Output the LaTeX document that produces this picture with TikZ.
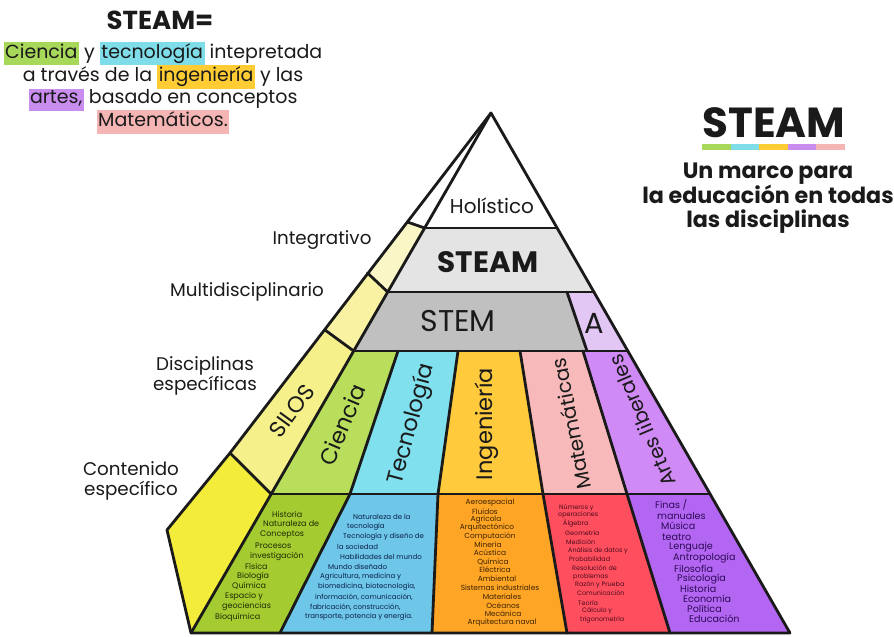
\documentclass[tikz,border=0pt]{standalone}
\usepackage{fontspec}
\setmainfont{Poppins}
\usetikzlibrary{calc}

% palette
\definecolor{hlGreen}{HTML}{A8D85A}
\definecolor{hlCyan}{HTML}{7FDDEA}
\definecolor{hlOrange}{HTML}{FFCC33}
\definecolor{hlPurple}{HTML}{C98DF0}
\definecolor{hlPink}{HTML}{F5B5B5}
\definecolor{slvA}{HTML}{FBF6C6}
\definecolor{slvB}{HTML}{F8F2A2}
\definecolor{slvC}{HTML}{F6F08A}
\definecolor{slvD}{HTML}{F3EC3A}
\definecolor{bandSteam}{HTML}{E4E4E4}
\definecolor{bandStem}{HTML}{C0C0C0}
\definecolor{bandA}{HTML}{E2C7F5}
\definecolor{colCie}{HTML}{B8DE5C}
\definecolor{colTec}{HTML}{80E0EE}
\definecolor{colIng}{HTML}{FFCB3D}
\definecolor{colMat}{HTML}{F7B9B9}
\definecolor{colArt}{HTML}{CF8AF5}
\definecolor{botCie}{HTML}{A4CB2F}
\definecolor{botTec}{HTML}{6EC6E8}
\definecolor{botIng}{HTML}{FFA526}
\definecolor{botMat}{HTML}{FF4F5E}
\definecolor{botArt}{HTML}{B366F2}
\definecolor{txCie}{HTML}{1E2B06}
\definecolor{txTec}{HTML}{0B1F4A}
\definecolor{txIng}{HTML}{3B2300}
\definecolor{txMat}{HTML}{4A0B1E}
\definecolor{txArt}{HTML}{2D0B57}
\definecolor{ink}{HTML}{1A1A1A}

\setlength{\fboxsep}{1.5pt}
\newcommand{\hl}[2]{\colorbox{#1}{\strut #2}}

\begin{document}
\begin{tikzpicture}[x=1pt,y=-1pt,
  edge/.style={draw=ink, line width=2.8pt, line join=round, line cap=round},
  side/.style={font=\fontsize{18.3}{19.5}\selectfont, align=center, text=ink, inner sep=0pt},
  intro/.style={font=\fontsize{19}{19.5}\selectfont, text=ink, inner sep=0pt},
  collbl/.style={font=\fontsize{22.5}{24}\selectfont, text=ink, inner sep=0pt},
  collblsm/.style={font=\fontsize{20}{22}\selectfont, text=ink, inner sep=0pt},
  tiny/.style={inner sep=0pt, anchor=west}]

\useasboundingbox (0,0) rectangle (894,637);
\fill[white] (0,0) rectangle (894,637);

% ---------- pyramid vertices ----------
\coordinate (apex) at (491,113);
\coordinate (bl) at (191,633);
\coordinate (br) at (790,633);
% inner (left) edge at each level
\coordinate (l1) at (424.7,228);
\coordinate (l2) at (387.7,292);
\coordinate (l3) at (353.7,351);
\coordinate (l4) at (271.2,494);
% right edge at each level
\coordinate (r1) at (557.1,228);
\coordinate (r2) at (593.9,292);
\coordinate (r3) at (627.9,351);
\coordinate (r4) at (710.1,494);
% outer sliver edge
\coordinate (o1) at (407.3,222);
\coordinate (o2) at (367.5,273);
\coordinate (o3) at (325,330);
\coordinate (o4) at (230,453);
\coordinate (o5) at (167,530);
% STEM / A split
\coordinate (a1) at (567,292);
\coordinate (a2) at (587,351);
% column dividers (top / bottom of the column band)
\coordinate (c1t) at (398,351); \coordinate (c1b) at (350,494);
\coordinate (c2t) at (458,351); \coordinate (c2b) at (438,494);
\coordinate (c3t) at (520,351); \coordinate (c3b) at (543,494);
\coordinate (c4t) at (583,351); \coordinate (c4b) at (627,494);
% content band dividers, bottom ends
\coordinate (d1) at (280,633);
\coordinate (d2) at (432,633);
\coordinate (d3) at (567,633);
\coordinate (d4) at (670,633);

% ---------- fills ----------
\fill[slvA] (o1) -- (l1) -- (l2) -- (o2) -- cycle;
\fill[slvB] (o2) -- (l2) -- (l3) -- (o3) -- cycle;
\fill[slvC] (o3) -- (l3) -- (l4) -- (o4) -- cycle;
\fill[slvD] (o4) -- (l4) -- (bl) -- (o5) -- cycle;
\fill[bandSteam] (l1) -- (r1) -- (r2) -- (l2) -- cycle;
\fill[bandStem] (l2) -- (a1) -- (a2) -- (l3) -- cycle;
\fill[bandA] (a1) -- (r2) -- (r3) -- (a2) -- cycle;
\fill[colCie] (l3) -- (c1t) -- (c1b) -- (l4) -- cycle;
\fill[colTec] (c1t) -- (c2t) -- (c2b) -- (c1b) -- cycle;
\fill[colIng] (c2t) -- (c3t) -- (c3b) -- (c2b) -- cycle;
\fill[colMat] (c3t) -- (c4t) -- (c4b) -- (c3b) -- cycle;
\fill[colArt] (c4t) -- (r3) -- (r4) -- (c4b) -- cycle;
\fill[botCie] (l4) -- (c1b) -- (d1) -- (bl) -- cycle;
\fill[botTec] (c1b) -- (c2b) -- (d2) -- (d1) -- cycle;
\fill[botIng] (c2b) -- (c3b) -- (d3) -- (d2) -- cycle;
\fill[botMat] (c3b) -- (c4b) -- (d4) -- (d3) -- cycle;
\fill[botArt] (c4b) -- (r4) -- (br) -- (d4) -- cycle;

% ---------- outlines ----------
\draw[edge] (apex) -- (o4) -- (o5) -- (bl) -- (br) -- cycle;
\draw[edge] (apex) -- (bl);
\draw[edge] (l1) -- (r1) (l2) -- (r2) (l3) -- (r3) (l4) -- (r4);
\draw[edge] (o1) -- (l1) (o2) -- (l2) (o3) -- (l3) (o4) -- (l4);
\draw[edge] (a1) -- (a2);
\draw[edge] (c1t) -- (c1b) -- (d1) (c2t) -- (c2b) -- (d2)
            (c3t) -- (c3b) -- (d3) (c4t) -- (c4b) -- (d4);

% ---------- pyramid labels ----------
\node[font=\fontsize{20}{22}\selectfont, text=ink] (holistico) at (492,206) {Holístico};
\node[font=\fontsize{29.5}{30}\selectfont\bfseries, text=ink] (steamband) at (488,262) {STEAM};
\node[font=\fontsize{30}{30}\selectfont, text=ink] (stemband) at (458,321) {STEM};
\node[font=\fontsize{29}{30}\selectfont, text=ink] (aband) at (594,323) {A};

\node[collbl, rotate=54] (silos) at (292,411) {SILOS};
\node[collbl, rotate=67] (ciencia) at (342,425) {Ciencia};
\node[collbl, rotate=75] (tecnologia) at (412,424) {Tecnología};
\node[collbl, rotate=90] (ingenieria) at (487,424) {Ingeniería};
\node[collblsm, rotate=101] (matematicas) at (571,424) {Matemáticas};
\node[collblsm, rotate=113] (artes) at (642,421) {Artes liberales};

% ---------- level labels ----------
\node[side] (integrativo) at (322,240) {Integrativo};
\node[side] (multi) at (247,292) {Multidisciplinario};
\node[side] (disciplinas) at (205,376) {Disciplinas\\específicas};
\node[side] (contenido) at (131,481) {Contenido\\específico};

% ---------- definition, top left ----------
\node[font=\fontsize{26}{28}\selectfont\bfseries, text=ink] (defhead) at (160,20) {STEAM=};
\node[intro] (def1) at (163,53.5) {\hl{hlGreen}{Ciencia} y \hl{hlCyan}{tecnología} intepretada};
\node[intro] (def2) at (163,77) {\strut a través de la \hl{hlOrange}{ingeniería} y las};
\node[intro] (def3) at (163,100) {\hl{hlPurple}{artes,} basado en conceptos};
\node[intro] (def4) at (163,122) {\hl{hlPink}{Matemáticos.}};

% ---------- title, right ----------
\node[font=\fontsize{42}{44}\selectfont\bfseries, text=ink] (title) at (774,123) {STEAM};
\fill[hlGreen]  (702,144) rectangle (730.6,150);
\fill[hlCyan]   (730.6,144) rectangle (759.2,150);
\fill[hlOrange] (759.2,144) rectangle (787.8,150);
\fill[hlPurple] (787.8,144) rectangle (816.4,150);
\fill[hlPink]   (816.4,144) rectangle (845,150);
\node[font=\fontsize{22.2}{24}\selectfont\bfseries, align=center, text=ink] (subtitle) at (768,198)
  {Un marco para\\la educación en todas\\las disciplinas};

% ---------- content lists ----------
\foreach \x/\y/\t [count=\i] in {272/514/{Historia}, 263/524/{Naturaleza de}, 260/535/{Conceptos},
  255/546/{Procesos}, 250/556/{investigación}, 245/566/{Física}, 237/576/{Biología},
  232/586/{Química}, 225/596/{Espacio y}, 222/607/{geociencias}, 215/617/{Bioquímica}}
  \node[tiny, text=txCie, font=\fontsize{8}{9}\selectfont] (cie\i) at (\x,\y) {\t};

\foreach \x/\y/\t [count=\i] in {353/517/{Naturaleza de la}, 347/527/{tecnología},
  343/537/{Tecnología y diseño de}, 337/547/{la sociedad}, 340/557/{Habilidades del mundo},
  328/567/{Mundo diseñado}, 320/577/{Agricultura, medicina y},
  318/587/{biomedicina, biotecnología,}, 315/597/{información, comunicación,},
  310/607/{fabricación, construcción,}, 305/617/{transporte, potencia y energía.}}
  \node[tiny, text=txTec, font=\fontsize{7}{8}\selectfont] (tec\i) at (\x,\y) {\t};

\foreach \x/\y/\t [count=\i] in {490/503/{Aeroespacial}, 485/512/{Fluidos}, 486/520/{Agrícola},
  487/528/{Arquitectónico}, 490/537/{Computación}, 488/545/{Minería}, 490/553/{Acústica},
  493/562/{Química}, 495/570/{Eléctrica}, 497/579/{Ambiental}, 500/588/{Sistemas industriales},
  502/597/{Materiales}, 503/606/{Océanos}, 503/614/{Mecánica}, 502/623/{Arquitectura naval}}
  \node[inner sep=0pt, text=txIng, font=\fontsize{7.4}{8}\selectfont] (ing\i) at (\x,\y) {\t};

\foreach \x/\y/\t [count=\i] in {559/508/{Números y}, 558/515/{operaciones}, 563/523/{Álgebra},
  565/533/{Geometría}, 566/542/{Medición}, 568/551/{Análisis de datos y}, 569/559/{Probabilidad},
  572/568/{Resolución de}, 573/577/{problemas}, 575/585/{Razón y Prueba}, 577/593/{Comunicación},
  578/603/{Teoría}, 582/611/{Cálculo y}, 580/620/{trigonometría}}
  \node[tiny, text=txMat, font=\fontsize{6.4}{7.5}\selectfont] (mat\i) at (\x,\y) {\t};

\foreach \x/\y/\t [count=\i] in {655/505/{Finas /}, 657/516/{manuales}, 661/526/{Música},
  662/537/{teatro}, 669/547/{Lenguaje}, 673/558/{Antropología}, 674/569/{Filosofía},
  677/579/{Psicología}, 680/589/{Historia}, 683/599/{Economía}, 687/609/{Política},
  689/619/{Educación}}
  \node[tiny, text=txArt, font=\fontsize{9.6}{10}\selectfont] (art\i) at (\x,\y) {\t};

\end{tikzpicture}
\end{document}
